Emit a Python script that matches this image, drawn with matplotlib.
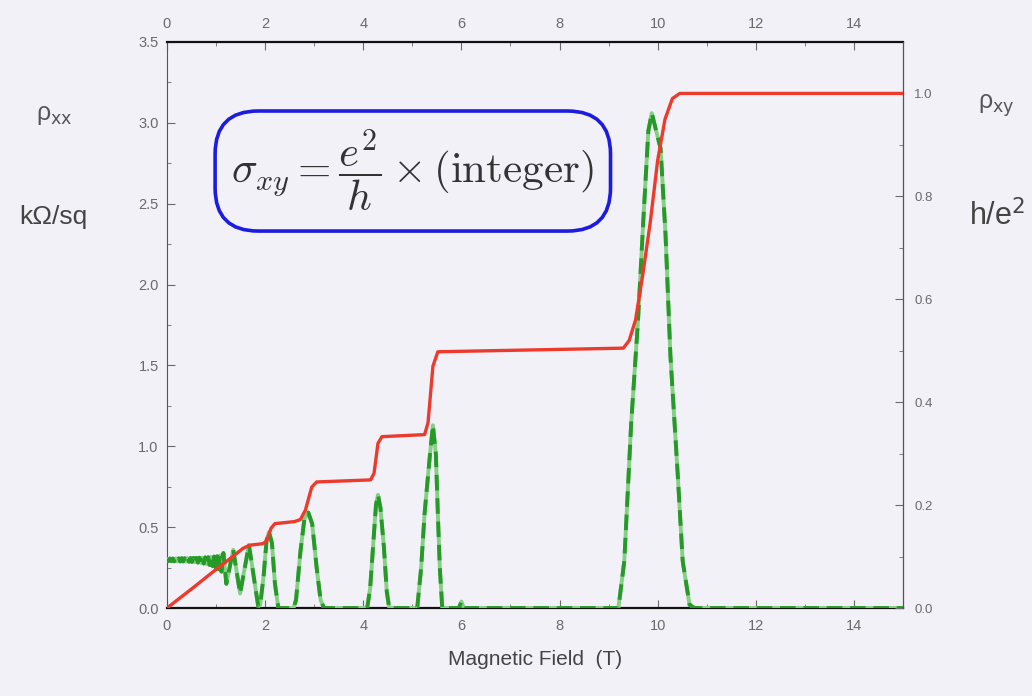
import matplotlib
matplotlib.use("Agg")
import matplotlib.pyplot as plt

# rho_xy (units of h/e^2), right axis
b_xy = [0.0, 0.5, 1.0, 1.3, 1.55, 1.68, 1.95, 2.03, 2.12, 2.2, 2.6, 2.72, 2.82,
        2.95, 3.05, 4.15, 4.22, 4.3, 4.38, 5.25, 5.32, 5.42, 5.52, 9.3, 9.42,
        9.55, 9.7, 9.85, 10.0, 10.15, 10.3, 10.45, 15.0]
rho_xy = [0.0, 0.037, 0.075, 0.097, 0.116, 0.122, 0.125, 0.13, 0.155, 0.164,
          0.168, 0.172, 0.19, 0.235, 0.245, 0.249, 0.262, 0.32, 0.333, 0.337,
          0.36, 0.47, 0.498, 0.505, 0.52, 0.56, 0.65, 0.75, 0.87, 0.95, 0.99,
          1.0, 1.0]

# rho_xx (kOhm/sq), left axis
b_xx = [0.0, 0.03, 0.06, 0.09, 0.12, 0.15, 0.18, 0.21, 0.24, 0.27, 0.30, 0.33,
        0.36, 0.39, 0.42, 0.45, 0.48, 0.51, 0.54, 0.57, 0.60, 0.63, 0.66, 0.69,
        0.72, 0.75, 0.78, 0.81, 0.84, 0.87, 0.90, 0.93, 0.96, 0.99, 1.02, 1.05,
        1.08, 1.11, 1.15, 1.21, 1.35, 1.49, 1.67, 1.86, 1.90, 1.97, 2.03, 2.08,
        2.14, 2.20, 2.27,
        2.58, 2.63, 2.72, 2.80, 2.88, 2.96, 3.05, 3.13, 3.20,
        4.08, 4.14, 4.20, 4.26, 4.30, 4.35, 4.42, 4.48, 4.53,
        5.10, 5.18, 5.25, 5.36, 5.42, 5.48, 5.52, 5.56, 5.61,
        5.95, 6.00, 6.05,
        9.20, 9.32, 9.46, 9.60, 9.71, 9.81, 9.88, 10.06, 10.16, 10.26, 10.41,
        10.51, 10.65, 10.75, 15.0]
rho_xx = [0.30, 0.29, 0.306, 0.29, 0.306, 0.289, 0.307, 0.289, 0.307, 0.288,
          0.308, 0.288, 0.308, 0.287, 0.309, 0.286, 0.309, 0.285, 0.31, 0.283,
          0.31, 0.281, 0.311, 0.278, 0.312, 0.275, 0.313, 0.271, 0.314, 0.266,
          0.316, 0.26, 0.318, 0.252, 0.32, 0.24, 0.325, 0.225, 0.34, 0.15,
          0.36, 0.09, 0.39, 0.01, 0.02, 0.20, 0.42, 0.47, 0.40, 0.15, 0.0,
          0.0, 0.05, 0.35, 0.55, 0.59, 0.52, 0.25, 0.05, 0.0,
          0.0, 0.12, 0.38, 0.64, 0.70, 0.62, 0.38, 0.10, 0.0,
          0.0, 0.25, 0.585, 0.95, 1.13, 0.95, 0.585, 0.25, 0.0,
          0.0, 0.04, 0.0,
          0.0, 0.29, 1.14, 1.78, 2.41, 2.95, 3.06, 2.84, 2.31, 1.56, 0.82,
          0.29, 0.02, 0.0, 0.0]

x_ticks = [0, 2, 4, 6, 8, 10, 12, 14]
left_ticks = [0.0, 0.5, 1.0, 1.5, 2.0, 2.5, 3.0, 3.5]
right_ticks = [0.0, 0.2, 0.4, 0.6, 0.8, 1.0]

bg = "#f3f1f8"
tick_col = "#6a6a6a"
plt.rcParams["font.family"] = ["Liberation Sans", "DejaVu Sans"]

fig = plt.figure(figsize=(10.32, 6.96), dpi=100, facecolor=bg)
ax = fig.add_axes([0.1618, 0.1264, 0.7132, 0.8133], facecolor=bg)
ax2 = ax.twinx()

ax.plot(b_xx, rho_xx, color="#86cf86", lw=2.8, zorder=3)
ax.plot(b_xx, rho_xx, color="#269a26", lw=2.8, dashes=(4, 2), zorder=4)
ax2.plot(b_xy, rho_xy, color="#ec3b2c", lw=2.4, zorder=5)

ax.set_xlim(0, 15)
ax.set_ylim(0, 3.5)
ax2.set_ylim(0, 1.1)

ax.set_xticks(x_ticks)
ax.set_xticks(range(1, 15, 2), minor=True)
ax.set_yticks(left_ticks)
ax.set_yticklabels([f"{v:.1f}" for v in left_ticks])
ax.set_yticks([0.25, 0.75, 1.25, 1.75, 2.25, 2.75, 3.25], minor=True)
ax2.set_yticks(right_ticks)
ax2.set_yticklabels([f"{v:.1f}" for v in right_ticks])
ax2.set_yticks([0.1, 0.3, 0.5, 0.7, 0.9], minor=True)

ax.tick_params(axis="x", which="both", direction="in", top=True, labeltop=True,
               colors=tick_col, labelsize=10.5, length=6, pad=8)
ax.tick_params(axis="x", which="minor", length=3)
ax.tick_params(axis="y", which="both", direction="in", colors=tick_col,
               labelsize=10.5, length=6, pad=6)
ax.tick_params(axis="y", which="minor", length=3)
ax2.tick_params(axis="y", which="both", direction="in", colors=tick_col,
                labelsize=9.5, length=6, pad=8)
ax2.tick_params(axis="y", which="minor", length=3)

for s in ["top", "bottom"]:
    ax.spines[s].set_color("#111111")
    ax.spines[s].set_linewidth(1.6)
ax.spines["left"].set_color("#555555")
ax2.spines["right"].set_color("#555555")
for s in ["top", "bottom", "left"]:
    ax2.spines[s].set_visible(False)

ax.set_xlabel("Magnetic Field  (T)", fontsize=15, color="#444444", labelpad=12)

fig.text(0.053, 0.835, "\u03c1$_{\\mathrm{xx}}$", fontsize=18, color="#555555",
         ha="center", va="center")
fig.text(0.052, 0.688, "k\u03a9/sq", fontsize=19, color="#444444",
         ha="center", va="center")
fig.text(0.965, 0.848, "\u03c1$_{\\mathrm{xy}}$", fontsize=18, color="#555555",
         ha="center", va="center")
fig.text(0.966, 0.690, r"h/e$^2$", fontsize=22, color="#444444",
         ha="center", va="center")

ax.text(0.334, 0.772, r"$\sigma_{xy} = \dfrac{e^2}{h} \times (\mathrm{integer})$",
        transform=ax.transAxes, fontsize=31, color="#333333", math_fontfamily="cm",
        ha="center", va="center", zorder=6,
        bbox=dict(boxstyle="round,pad=0.38,rounding_size=1.0", fc=bg,
                  ec="#1c1ce0", lw=2.6))

fig.savefig("out.png", dpi=100, facecolor=bg)
